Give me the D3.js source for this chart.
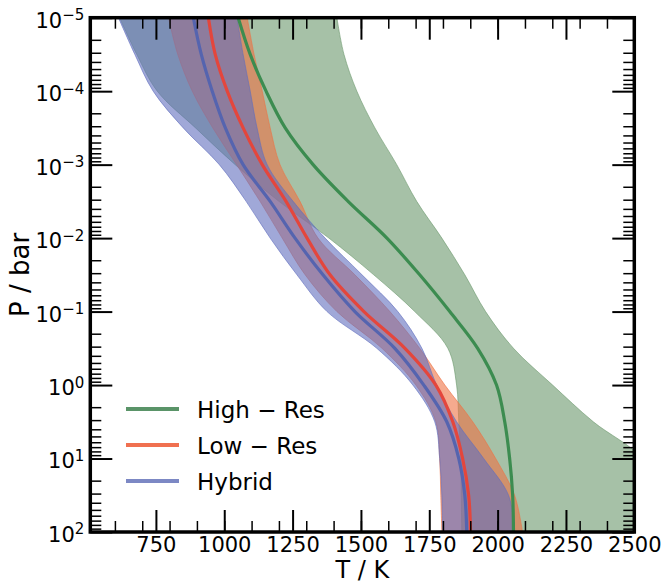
<!DOCTYPE html>
<meta charset="utf-8">
<head>
	<title>P-T profiles</title>
</head>

<style>
body{ margin: 0; background: #fff; }
svg{ font-family: "DejaVu Sans", sans-serif; }
.band{ stroke-width: 1; }
.median{ fill: none; stroke-width: 3.2; }
</style>

<body>
<svg width="663" height="583"></svg>

<script src="https://cdnjs.cloudflare.com/ajax/libs/d3/7.8.5/d3.min.js"></script>
<script>

// pressure levels (bar)
var pressure = [1e-5, 3.16e-5, 1e-4, 3.16e-4, 1e-3, 3.16e-3, 1e-2, 3.16e-2, 1e-1, 3.16e-1, 1, 3.16, 10, 31.6, 100];

// temperatures (K)
var highMed = [1051, 1095, 1153, 1223, 1325, 1453, 1595, 1715, 1825, 1927, 1996, 2026, 2044, 2055, 2058];
var highLo  = [617, 680, 755, 895, 1040, 1200, 1383, 1547, 1697, 1818, 1850, 1858, 1865, 1867, 1869];
var highHi  = [1412, 1438, 1485, 1551, 1631, 1704, 1796, 1880, 1956, 2058, 2201, 2350, 2530, 2600, 2660];

var lowMed = [942, 967, 1011, 1069, 1139, 1226, 1303, 1387, 1511, 1661, 1774, 1836, 1872, 1894, 1901];
var lowLo  = [796, 830, 883, 958, 1045, 1131, 1212, 1296, 1412, 1577, 1701, 1774, 1788, 1792, 1796];
var lowHi  = [1084, 1109, 1139, 1168, 1204, 1277, 1343, 1478, 1606, 1715, 1807, 1909, 1993, 2062, 2091];

var hybMed = [887, 916, 956, 1004, 1069, 1168, 1259, 1361, 1478, 1624, 1730, 1814, 1858, 1880, 1887];
var hybLo  = [613, 673, 740, 850, 982, 1080, 1168, 1266, 1376, 1558, 1690, 1770, 1788, 1796, 1799];
var hybHi  = [1047, 1069, 1095, 1120, 1157, 1252, 1369, 1504, 1635, 1723, 1777, 1850, 1949, 2040, 2062];

var seriesNames = ['High \u2212 Res', 'Low \u2212 Res', 'Hybrid'];
var xTicks = [750, 1000, 1250, 1500, 1750, 2000, 2250, 2500];
var yTicks = [1e-5, 1e-4, 1e-3, 1e-2, 1e-1, 1, 10, 100];
var yExp = ['\u22125', '\u22124', '\u22123', '\u22122', '\u22121', '0', '1', '2'];

// styles
var fillColors = ['#6b986c', '#ee7143', '#616ebe'];
var lineColors = ['#3c8c50', '#e4463c', '#5564af'];
var legendColors = ['#5a9468', '#f07050', '#7c88c4'];

var series = [
	{lo: highLo, med: highMed, hi: highHi},
	{lo: lowLo, med: lowMed, hi: lowHi},
	{lo: hybLo, med: hybMed, hi: hybHi}
];

var pL = 90.3, pR = 634.3, pT = 17.7, pB = 532;

var x = d3.scaleLinear().domain([510, 2500]).range([pL, pR]);
var y = d3.scaleLog().domain([1e-5, 1e2]).range([pT, pB]);

var svg = d3.select('svg');

svg.append('clipPath').attr('id', 'clip')
	.append('rect')
	.attr('x', pL).attr('y', pT)
	.attr('width', pR - pL).attr('height', pB - pT);

var plot = svg.append('g').attr('clip-path', 'url(#clip)');

// bands
series.forEach(function(s, k){
	var area = d3.area()
		.y(function(d){ return y(d); })
		.x0(function(d, i){ return x(s.lo[i]); })
		.x1(function(d, i){ return x(s.hi[i]); })
		.curve(d3.curveCatmullRom);
	plot.append('path')
		.attr('class', 'band')
		.attr('d', area(pressure))
		.attr('fill', fillColors[k])
		.attr('fill-opacity', 0.6)
		.attr('stroke', fillColors[k])
		.attr('stroke-opacity', 0.6);
});

// medians
series.forEach(function(s, k){
	var line = d3.line()
		.x(function(d, i){ return x(s.med[i]); })
		.y(function(d){ return y(d); })
		.curve(d3.curveCatmullRom);
	plot.append('path')
		.attr('class', 'median')
		.attr('d', line(pressure))
		.attr('stroke', lineColors[k]);
});

// minor tick positions
var xMinor = d3.range(600, 2500, 100);
var yMinor = [];
for (var e = -5; e < 2; e++) {
	for (var m = 2; m < 10; m++) yMinor.push(m * Math.pow(10, e));
}

function styleTicks(g, w){
	g.select('.domain').remove();
	g.selectAll('.tick line').attr('stroke', '#000').attr('stroke-width', w);
}

// x axes
svg.append('g').attr('transform', 'translate(0,' + pB + ')')
	.call(d3.axisBottom(x).tickValues(xMinor).tickSize(-11).tickFormat(''))
	.call(styleTicks, 1.5);
svg.append('g').attr('transform', 'translate(0,' + pT + ')')
	.call(d3.axisTop(x).tickValues(xMinor).tickSize(-11).tickFormat(''))
	.call(styleTicks, 1.5);
svg.append('g').attr('transform', 'translate(0,' + pT + ')')
	.call(d3.axisTop(x).tickValues(xTicks).tickSize(-22).tickFormat(''))
	.call(styleTicks, 2);
var xb = svg.append('g').attr('transform', 'translate(0,' + pB + ')')
	.call(d3.axisBottom(x).tickValues(xTicks).tickSize(-22).tickPadding(5).tickFormat(d3.format('d')))
	.call(styleTicks, 2);
xb.selectAll('.tick text')
	.attr('font-family', '"DejaVu Sans", sans-serif')
	.attr('font-size', 21)
	.attr('fill', '#000');

// y axes
svg.append('g').attr('transform', 'translate(' + pL + ',0)')
	.call(d3.axisLeft(y).tickValues(yMinor).tickSize(-11).tickFormat(''))
	.call(styleTicks, 1.5);
svg.append('g').attr('transform', 'translate(' + pR + ',0)')
	.call(d3.axisRight(y).tickValues(yMinor).tickSize(-11).tickFormat(''))
	.call(styleTicks, 1.5);
svg.append('g').attr('transform', 'translate(' + pR + ',0)')
	.call(d3.axisRight(y).tickValues(yTicks).tickSize(-22).tickFormat(''))
	.call(styleTicks, 2);
var yl = svg.append('g').attr('transform', 'translate(' + pL + ',0)')
	.call(d3.axisLeft(y).tickValues(yTicks).tickSize(-22).tickPadding(6).tickFormat(''))
	.call(styleTicks, 2);
yl.selectAll('.tick text')
	.attr('font-family', '"DejaVu Sans", sans-serif')
	.attr('font-size', 21)
	.attr('fill', '#000')
	.attr('dy', '0.45em')
	.each(function(d, i){
		var t = d3.select(this);
		t.append('tspan').text('10');
		t.append('tspan').attr('dy', '-0.5em').attr('font-size', 15).text(yExp[i]);
	});

// frame
svg.append('rect')
	.attr('x', pL).attr('y', pT)
	.attr('width', pR - pL).attr('height', pB - pT)
	.attr('fill', 'none').attr('stroke', '#000').attr('stroke-width', 3.5);

// axis labels
svg.append('text')
	.attr('x', (pL + pR) / 2).attr('y', 578)
	.attr('text-anchor', 'middle').attr('font-size', 24)
	.text('T / K');
svg.append('text')
	.attr('transform', 'translate(29,' + ((pT + pB) / 2) + ') rotate(-90)')
	.attr('text-anchor', 'middle').attr('font-size', 26)
	.text('P / bar');

// legend
var legend = svg.append('g');
seriesNames.forEach(function(name, k){
	var ly = 409 + k * 36;
	legend.append('line')
		.attr('x1', 126).attr('x2', 179)
		.attr('y1', ly).attr('y2', ly)
		.attr('stroke', legendColors[k]).attr('stroke-width', 4);
	legend.append('text')
		.attr('x', 197).attr('y', ly + 8.5)
		.attr('font-size', 23)
		.text(name);
});

</script>
</body>
</html>
